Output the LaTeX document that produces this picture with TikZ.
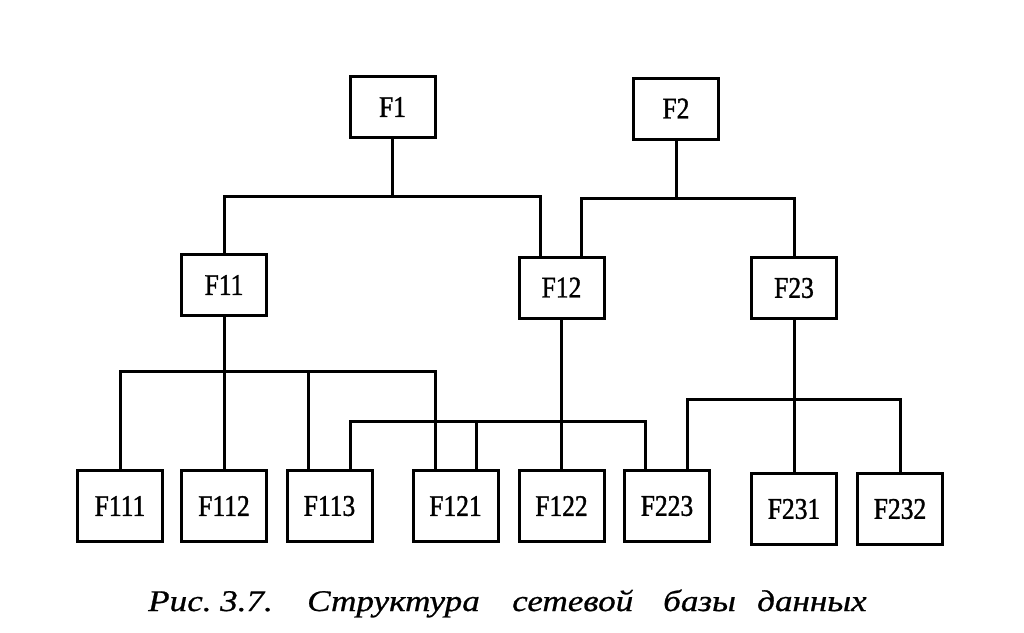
\documentclass[tikz,border=0pt]{standalone}
\usepackage{fontspec}
\setmainfont{Liberation Serif}
\newfontfamily\capfont[FakeStretch=1.17,FakeBold=0.8]{Liberation Serif}
\newfontfamily\lblfont[FakeStretch=0.85,FakeBold=1.2]{Liberation Serif}
\begin{document}
\begin{tikzpicture}[x=1pt,y=-1pt,
  fbox/.style={draw, line width=3pt, inner sep=0pt, minimum width=85pt, minimum height=61pt, font=\lblfont\fontsize{30}{30}\selectfont},
  lowbox/.style={fbox, minimum height=71pt},
  link/.style={line width=3pt}]
\useasboundingbox (0,0) rectangle (1024,632);
\fill[white] (0,0) rectangle (1024,632);
% top
\node[fbox] (F1) at (392.5,107) {F1};
\node[fbox] (F2) at (676,108.5) {F2};
% middle
\node[fbox] (F11) at (224,285) {F11};
\node[fbox] (F12) at (561.5,287.5) {F12};
\node[fbox] (F23) at (794,288) {F23};
% bottom
\node[lowbox] (F111) at (120,506) {F111};
\node[lowbox] (F112) at (224,506) {F112};
\node[lowbox] (F113) at (329.5,506) {F113};
\node[lowbox] (F121) at (455.5,506) {F121};
\node[lowbox] (F122) at (561.5,506) {F122};
\node[lowbox] (F223) at (667,506) {F223};
\node[lowbox] (F231) at (794,509) {F231};
\node[lowbox] (F232) at (900,509) {F232};
% bus levels
\coordinate (b1) at (0,196);
\coordinate (b2) at (0,198);
\coordinate (b11) at (0,371);
\coordinate (b12) at (0,421);
\coordinate (b23) at (0,399);
% F1
\draw[link] (F1.south) -- (F1.south |- b1);
\draw[link] (F11.north) -- (F11.north |- b1) -- ([xshift=-21.5pt]F12.north |- b1) -- ([xshift=-21.5pt]F12.north);
% F2
\draw[link] (F2.south) -- (F2.south |- b2);
\draw[link] ([xshift=19.5pt]F12.north) -- ([xshift=19.5pt]F12.north |- b2) -- (F23.north |- b2) -- (F23.north);
% F11
\draw[link] (F11.south) -- (F112.north);
\draw[link] (F111.north) -- (F111.north |- b11) -- ([xshift=-20.5pt]F121.north |- b11) -- ([xshift=-20.5pt]F121.north);
\draw[link] ([xshift=-21.5pt]F113.north) -- ([xshift=-21.5pt]F113.north |- b11);
% F12
\draw[link] (F12.south) -- (F122.north);
\draw[link] ([xshift=20.5pt]F113.north) -- ([xshift=20.5pt]F113.north |- b12) -- ([xshift=-22pt]F223.north |- b12) -- ([xshift=-22pt]F223.north);
\draw[link] ([xshift=20.5pt]F121.north) -- ([xshift=20.5pt]F121.north |- b12);
% F23
\draw[link] (F23.south) -- (F231.north);
\draw[link] ([xshift=20pt]F223.north) -- ([xshift=20pt]F223.north |- b23) -- (F232.north |- b23) -- (F232.north);
% caption
\node[anchor=base west, inner sep=0pt, font=\capfont\fontsize{30}{30}\selectfont\itshape] (cap) at (148,611)
  {\makebox[72pt][l]{Рис.}\makebox[87pt][l]{3.7.}\makebox[205pt][l]{Структура}\makebox[151pt][l]{сетевой}\makebox[94pt][l]{базы}данных};
\end{tikzpicture}
\end{document}
